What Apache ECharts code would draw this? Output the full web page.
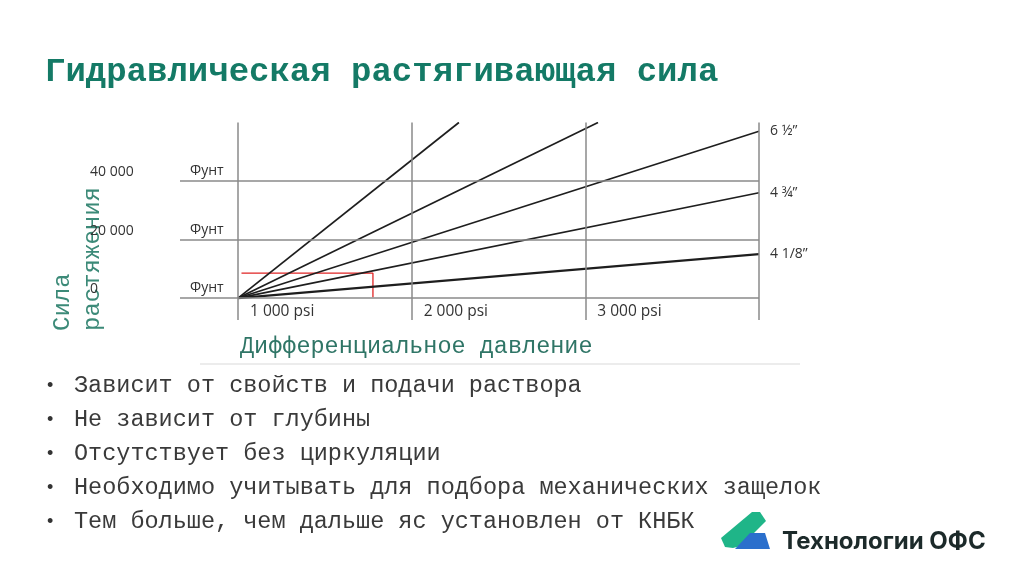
<!DOCTYPE html>
<html>
<head>
<meta charset="utf-8">
<script src="https://cdn.jsdelivr.net/npm/echarts@6/dist/echarts.min.js"></script>
<style>
html,body{margin:0;padding:0;background:#fff;}
#chart{width:1024px;height:574px;}
</style>
</head>
<body>
<div id="chart"></div>
<script>
// ---- data ----
const xTickValues = [0, 1000, 2000];
const xTickLabels = ['1 000 psi', '2 000 psi', '3 000 psi'];
const yTickValues = [0, 20000, 40000];
const yTickLabels = ['0', '20 000', '40 000'];
const gridLinesX = [0, 1000, 2000, 3000];
const gridLinesY = [0, 20000, 40000];
const gridLineLabel = 'Фунт';
const lineNames = ['', '', '6 ½”', '4 ¾”', '4 1/8”'];
const lineEndX = [1272, 2073, 3000, 3000, 3000];
const lineEndY = [60000, 60000, 57000, 36000, 15000];
const redX = [20, 777, 777];
const redY = [8500, 8500, 300];
const titleText = 'Гидравлическая растягивающая сила';
const yTitle = 'Сила\nрастяжения';
const xTitle = 'Дифференциальное давление';
const bullets = [
  'Зависит от свойств и подачи раствора',
  'Не зависит от глубины',
  'Отсутствует без циркуляции',
  'Необходимо учитывать для подбора механических защелок',
  'Тем больше, чем дальше яс установлен от КНБК'
];
const logoText = 'Технологии ОФС';

// ---- chart ----
const chart = echarts.init(document.getElementById('chart'), null, {renderer: 'canvas'});
const mono = '"Liberation Mono", "Courier New", monospace';
const sans = '"Open Sans", "Liberation Sans", sans-serif';

const series = [];
// grid lines
series.push({
  type: 'line', data: [], silent: true, z: 1,
  markLine: {
    silent: true, symbol: 'none', animation: false,
    lineStyle: {color: '#8a8a8a', width: 1.5, type: 'solid'},
    data: gridLinesY.map(v => ({
      yAxis: v,
      label: {show: true, position: 'insideStartTop', formatter: gridLineLabel,
              color: '#333', fontSize: 14, fontFamily: sans, distance: [10, 3]}
    })).concat(gridLinesX.map(v => ({xAxis: v, label: {show: false}})))
  }
});
lineEndX.forEach((ex, i) => {
  series.push({
    type: 'line', name: lineNames[i], z: 3,
    data: [[0, 0], [ex, lineEndY[i]]],
    symbol: 'none', clip: true,
    lineStyle: {color: '#1e1e1e', width: i === 4 ? 2.2 : 1.7},
    endLabel: {show: lineNames[i] !== '', formatter: '{a}', color: '#333',
               fontSize: 14, fontFamily: sans, distance: 11},
    animation: false
  });
});
series.push({
  type: 'line', z: 2, symbol: 'none',
  data: redX.map((x, i) => [x, redY[i]]),
  lineStyle: {color: '#e02424', width: 1.3},
  animation: false
});

const graphics = [
  {type: 'text', x: 45, y: 72, style: {text: titleText, font: 'bold 34px ' + mono, fill: '#147a66', verticalAlign: 'middle'}},
  {type: 'text', x: 48, y: 331, rotation: Math.PI / 2,
   style: {text: yTitle, font: '24px ' + mono, fill: '#3c8a78', align: 'left', verticalAlign: 'top', lineHeight: 30}},
  {type: 'text', x: 240, y: 347, style: {text: xTitle, font: '23.5px ' + mono, fill: '#2f7566', verticalAlign: 'middle'}},
  {type: 'line', shape: {x1: 200, y1: 364, x2: 800, y2: 364}, style: {stroke: '#ececec', lineWidth: 2}},
  {type: 'polygon', shape: {points: [[721, 538], [752, 512], [760, 512], [766, 521], [741, 546], [733, 548], [725, 547]]}, style: {fill: '#1fb588'}},
  {type: 'polygon', shape: {points: [[735, 549], [750, 533], [765, 533], [770, 549]]}, style: {fill: '#2b6fcc'}},
  {type: 'text', x: 782, y: 542, style: {text: logoText, font: 'bold 24px Inter, Roboto, "Liberation Sans", sans-serif', fill: '#1c2a2a', verticalAlign: 'middle'}}
];
bullets.forEach((b, i) => {
  graphics.push({type: 'text', x: 47, y: 386 + i * 34, style: {text: '•', font: '18px "Liberation Sans", sans-serif', fill: '#333', verticalAlign: 'middle'}});
  graphics.push({type: 'text', x: 74, y: 386 + i * 34, style: {text: b, font: '23.5px ' + mono, fill: '#3a3a3a', verticalAlign: 'middle'}});
});

chart.setOption({
  backgroundColor: '#ffffff',
  animation: false,
  grid: {left: 180, right: 265, top: 122.5, bottom: 254, containLabel: false},
  xAxis: {
    type: 'value', min: -334, max: 3000,
    axisLine: {show: false}, axisTick: {show: false}, splitLine: {show: false},
    axisLabel: {
      inside: true, margin: 0, customValues: xTickValues, align: 'left',
      padding: [0, 0, 0, 12], color: '#333', fontSize: 15.5, fontFamily: sans,
      formatter: v => xTickLabels[xTickValues.indexOf(v)]
    }
  },
  yAxis: {
    type: 'value', min: -7500, max: 60000,
    axisLine: {show: false}, axisTick: {show: false}, splitLine: {show: false},
    axisLabel: {
      margin: 90, align: 'left', customValues: yTickValues, verticalAlign: 'bottom', padding: [0, 0, 2, 0],
      color: '#333', fontSize: 14, fontFamily: sans,
      formatter: v => yTickLabels[yTickValues.indexOf(v)]
    }
  },
  series: series,
  graphic: graphics
});
</script>
</body>
</html>
